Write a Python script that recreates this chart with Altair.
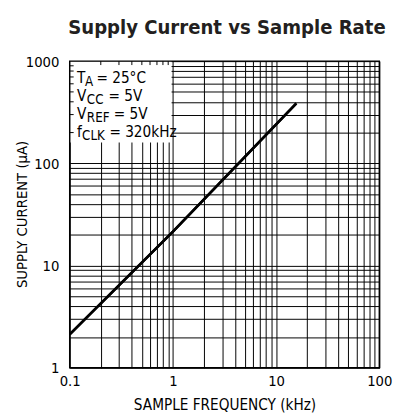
import altair as alt
import pandas as pd

# Data
freq_khz = [0.1, 1.0, 15.7]
supply_ua = [2.12, 21.5, 386]

x_ticks = [0.1, 0.2, 0.3, 0.4, 0.5, 0.6, 0.7, 0.8, 0.9,
           1, 2, 3, 4, 5, 6, 7, 8, 9,
           10, 20, 30, 40, 50, 60, 70, 80, 90, 100]
y_ticks = [1, 2, 3, 4, 5, 6, 7, 8, 9,
           10, 20, 30, 40, 50, 60, 70, 80, 90,
           100, 200, 300, 400, 500, 600, 700, 800, 900, 1000]

box_x = [0.1, 0.97]
box_y = [160, 1000]
box_x_ticks = [0.2, 0.3, 0.4, 0.5, 0.6, 0.7, 0.8, 0.9]
box_y_ticks = [200, 300, 400, 500, 600, 700, 800, 900]

title_text = "Supply Current vs Sample Rate"
x_title = "SAMPLE FREQUENCY (kHz)"
y_title = "SUPPLY CURRENT (µA)"

FONT = "'DejaVu Sans Condensed', 'Liberation Sans Narrow', 'Roboto Condensed', Roboto, sans-serif"
W, H = 316, 313

line_df = pd.DataFrame({"f": freq_khz, "i": supply_ua})

xscale = alt.Scale(type="log", domain=[0.1, 100], nice=False)
yscale = alt.Scale(type="log", domain=[1, 1000], nice=False)

xlab_expr = "indexof([0.1,1,10,100], datum.value) >= 0 ? datum.label : ''"
ylab_expr = "indexof([1,10,100,1000], datum.value) >= 0 ? datum.label : ''"

line = alt.Chart(line_df).mark_line(color="black", strokeWidth=2.6).encode(
    x=alt.X("f:Q", scale=xscale,
            axis=alt.Axis(values=x_ticks, labelExpr=xlab_expr, format="~g",
                          grid=True, gridColor="black", gridOpacity=1, gridWidth=1,
                          ticks=False, domain=False, title=x_title,
                          labelFont=FONT, labelFontSize=15, labelColor="black",
                          labelPadding=6, titleFont=FONT, titleFontSize=15.5,
                          titleFontWeight="normal", titleColor="black", titlePadding=10,
                          labelFlush=False, labelOverlap=False)),
    y=alt.Y("i:Q", scale=yscale,
            axis=alt.Axis(values=y_ticks, labelExpr=ylab_expr, format="~g",
                          grid=True, gridColor="black", gridOpacity=1, gridWidth=1,
                          ticks=False, domain=False, title=None,
                          labelFont=FONT, labelFontSize=15, labelColor="black",
                          labelPadding=11,
                          labelFlush=False, labelOverlap=False)),
)

box_df = pd.DataFrame({"x": [box_x[0]], "x2": [box_x[1]], "y": [box_y[0]], "y2": [box_y[1]]})
box = alt.Chart(box_df).mark_rect(fill="white").encode(
    x=alt.X("x:Q", scale=xscale), x2="x2:Q",
    y=alt.Y("y:Q", scale=yscale), y2="y2:Q",
)

top_ticks = alt.Chart(pd.DataFrame({"x": box_x_ticks})).mark_rule(color="black", strokeWidth=1).encode(
    x=alt.X("x:Q", scale=xscale), y=alt.value(0), y2=alt.value(4))
left_ticks = alt.Chart(pd.DataFrame({"y": box_y_ticks})).mark_rule(color="black", strokeWidth=1).encode(
    y=alt.Y("y:Q", scale=yscale), x=alt.value(0), x2=alt.value(4))

frame = alt.Chart(pd.DataFrame({"x": [0.1], "x2": [100], "y": [1], "y2": [1000]})).mark_rect(
    fill=None, stroke="black", strokeWidth=1.5).encode(
    x=alt.X("x:Q", scale=xscale), x2="x2:Q",
    y=alt.Y("y:Q", scale=yscale), y2="y2:Q")

# legend text pieces: (text, x, y, size)
MAIN, SUB = 15.5, 13.5
pieces = [
    ("T", 7.5, 22.7, MAIN), ("A", 15.7, 25.5, SUB), ("= 25°C", 27.3, 22.7, MAIN),
    ("V", 7.5, 40.9, MAIN), ("CC", 17.5, 43.7, SUB), ("= 5V", 39.5, 40.9, MAIN),
    ("V", 7.5, 59.3, MAIN), ("REF", 17.5, 62.1, SUB), ("= 5V", 45.0, 59.3, MAIN),
    ("f", 7.5, 77.7, MAIN), ("CLK", 12.6, 80.5, SUB), ("= 320kHz", 40.5, 77.7, MAIN),
]
texts = []
for t, px, py, sz in pieces:
    texts.append(alt.Chart(pd.DataFrame({"t": [t]})).mark_text(
        align="left", baseline="alphabetic", font=FONT, fontSize=sz, color="black").encode(
        x=alt.value(px), y=alt.value(py), text="t:N"))

ytitle = alt.Chart(pd.DataFrame({"t": [y_title]})).mark_text(
    align="center", baseline="middle", font=FONT, fontSize=15, angle=270, color="black").encode(
    x=alt.value(-49), y=alt.value(H / 2), text="t:N")

title = alt.Chart(pd.DataFrame({"t": [title_text]})).mark_text(
    align="center", baseline="alphabetic", font=FONT, fontSize=20.5, fontWeight="bold",
    color="#231f20").encode(x=alt.value(160.5), y=alt.value(-27.3), text="t:N")

chart = alt.layer(line, box, top_ticks, left_ticks, frame, *texts, line, ytitle, title).properties(
    width=W, height=H,
    autosize=alt.AutoSizeParams(type="none"),
    padding={"left": 63, "top": 50, "right": 16, "bottom": 46},
).configure_view(stroke=None).configure(background="white")

chart.save("out.html", embed_options={"renderer": "svg", "actions": False})
